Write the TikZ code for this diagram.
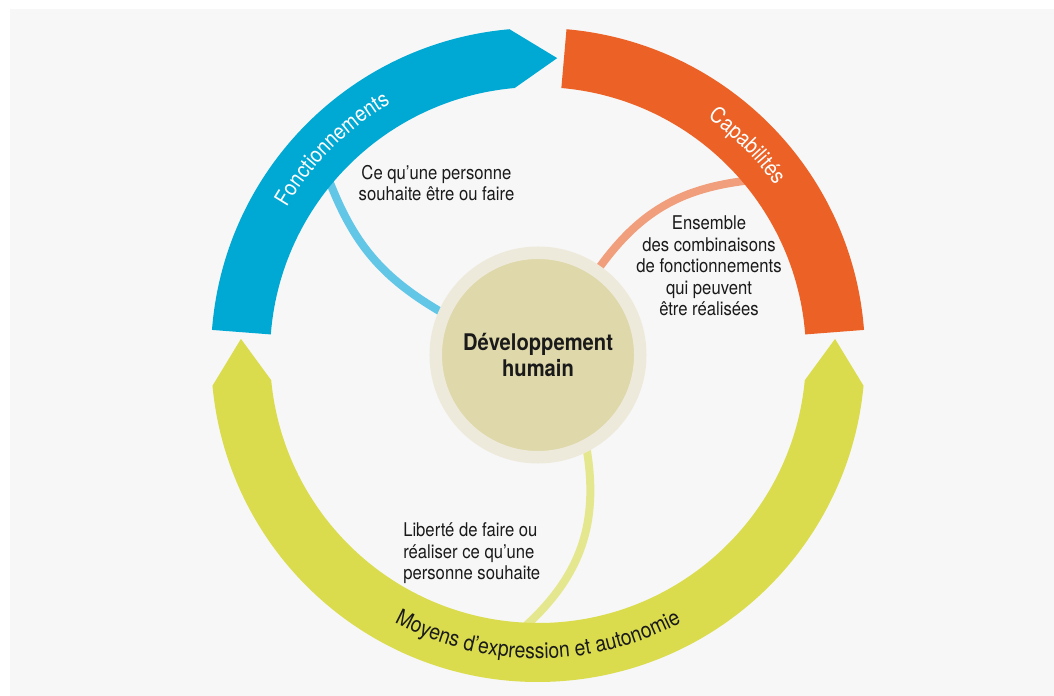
\documentclass[tikz,border=0pt]{standalone}
\usepackage{fontspec}
\setmainfont{TeX Gyre Heros}[FakeStretch=0.88]
\usetikzlibrary{decorations.text}
\definecolor{bggray}{HTML}{F7F7F7}
\definecolor{fblue}{HTML}{00A8D4}
\definecolor{corange}{HTML}{EC6126}
\definecolor{myellow}{HTML}{DADC4E}
\definecolor{ringcol}{HTML}{EEEADB}
\definecolor{innercol}{HTML}{DFD8AA}
\definecolor{fcon}{HTML}{62C6E6}
\definecolor{ccon}{HTML}{F09E7C}
\definecolor{mcon}{HTML}{E5E78E}
\definecolor{txt}{HTML}{1A1A1A}
\pgfdeclarelayer{bglayer}
\pgfdeclarelayer{connlayer}
\pgfsetlayers{bglayer,connlayer,main}
\newcommand{\bandfont}{\fontsize{16.5}{19}\selectfont}
\begin{document}
\begin{tikzpicture}[x=0.75pt,y=0.75pt,
  hub/.style={circle, fill=innercol, draw=ringcol, line width=9.375pt,
    minimum size=153.4pt, inner sep=0pt, align=center, text=txt,
    font=\bfseries\fontsize{17.2}{19.5}\selectfont},
  conn/.style={line width=6pt, shorten <=-8pt, shorten >=-8pt},
  desc/.style={inner sep=0pt, text=txt, font=\fontsize{14.2}{16.2}\selectfont}]
\useasboundingbox (0,0) rectangle (1054,696);
\begin{pgfonlayer}{bglayer}
\fill[bggray] (10,0) rectangle (1054,687);
\end{pgfonlayer}
\coordinate (C) at (538,341);
\begin{scope}[shift={(538,341)}]
% blue band with arrow
\fill[fblue] (175.6:327) arc[start angle=175.6, end angle=95, radius=327]
  -- (86.3:297.5) -- (95:268) arc[start angle=95, end angle=175.6, radius=268] -- cycle;
% orange band
\fill[corange] (85:327) arc[start angle=85, end angle=4.4, radius=327]
  -- (4.4:268) arc[start angle=4.4, end angle=85, radius=268] -- cycle;
% yellow band with two arrows
\fill[myellow] (176.9:297.5) -- (185.4:327) arc[start angle=185.4, end angle=354.6, radius=327]
  -- (3.1:297.5) -- (354.6:268) arc[start angle=354.6, end angle=185.4, radius=268] -- cycle;
\coordinate (fEnd) at (140.4:270);
\coordinate (cEnd) at (39.9:272);
\coordinate (mEnd) at (267.7:270);
% band labels
\path[decorate, decoration={text along path, text align=center, text color=white,
  text={|\bandfont|Fonctionnements}}]
  (175:291.5) arc[start angle=175, end angle=95, radius=291.5];
\path[decorate, decoration={text along path, text align=center, text color=white,
  text={|\bandfont|Capabilités}}]
  (85:291.5) arc[start angle=85, end angle=5, radius=291.5];
\path[decorate, decoration={text along path, text align=center, text color=txt,
  text={|\bandfont|Moyens d’expression et autonomie}}]
  (190:303.5) arc[start angle=190, end angle=350, radius=303.5];
\end{scope}
\node[hub] (hub) at (C) {Développement\\humain};
\begin{pgfonlayer}{connlayer}
\draw[conn, fcon] (hub.156.3) to[bend left=20] (fEnd);
\draw[conn, ccon] (hub.55.4) to[bend left=25] (cEnd);
\draw[conn, mcon] (hub.297.3) to[bend left=30] (mEnd);
\end{pgfonlayer}
\node[desc, align=center] (ftext) at (436.5,513) {Ce qu’une personne\\souhaite être ou faire};
\node[desc, align=center] (ctext) at (709,430) {Ensemble\\des combinaisons\\de fonctionnements\\qui peuvent\\être réalisées};
\node[desc, align=left, anchor=west] (mtext) at (403,142.5) {Liberté de faire ou\\réaliser ce qu’une\\personne souhaite};
\end{tikzpicture}
\end{document}
